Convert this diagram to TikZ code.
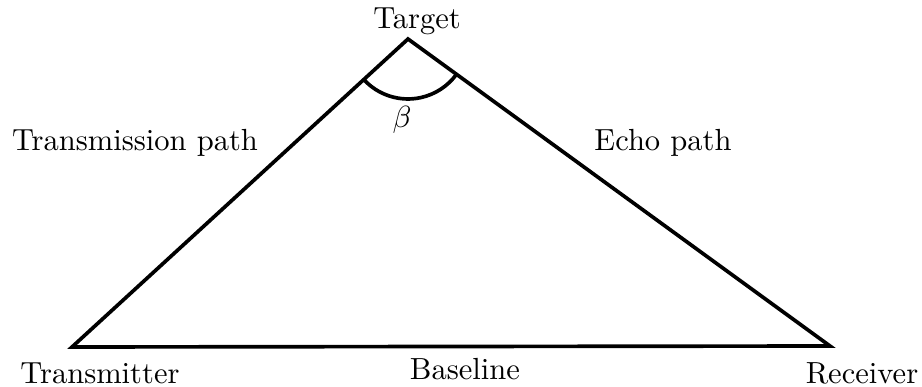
\documentclass[tikz,border=0pt]{standalone}
\usepackage{amsmath,amssymb}
\usetikzlibrary{angles,quotes}

\begin{document}
\begin{tikzpicture}[x=0.0115cm,y=-0.0115cm]
\useasboundingbox (0,0) rectangle (922,387);
\coordinate (tx) at (72,347); \coordinate (rx) at (830,346); \coordinate (tg) at (408,39);
\draw[very thick,line join=miter] (tx) -- (tg) -- (rx) -- cycle;
\path pic[draw,very thick,angle radius=0.69cm] {angle = tx--tg--rx};
\node (txl) at (100,373) {Transmitter}; \node (rxl) at (862,373) {Receiver};
\node (tgl) at (417,21) {Target}; \node (bl) at (465,369) {Baseline};
\node (tpl) at (135,143) {Transmission path}; \node (epl) at (663,143) {Echo path};
\node (bt) at (402,120) {$\beta$};
\end{tikzpicture}
\end{document}
